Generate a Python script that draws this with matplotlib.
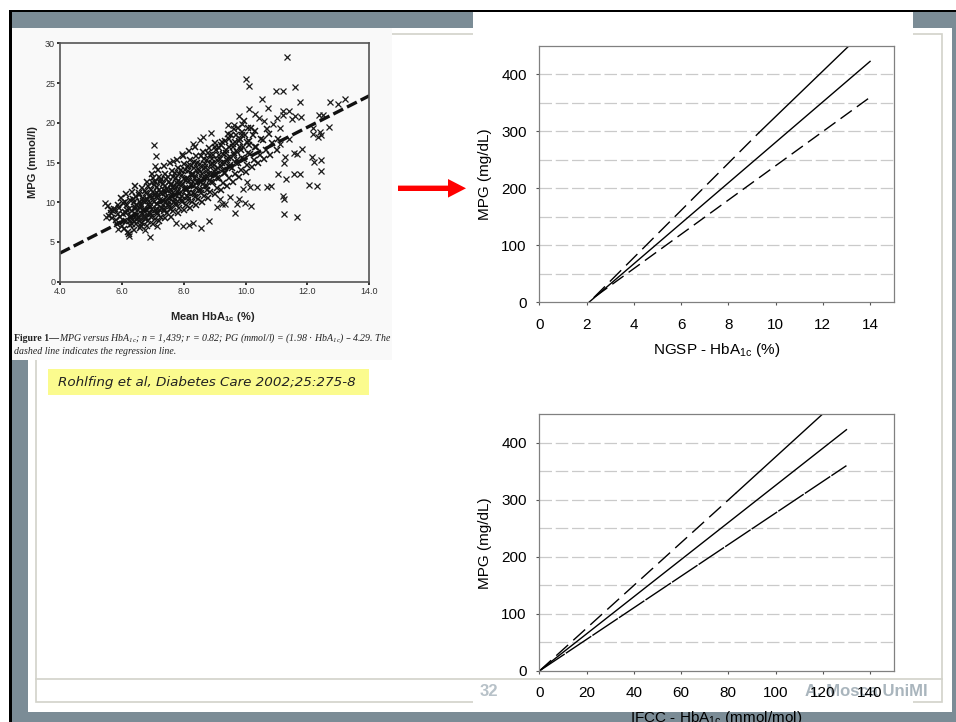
import matplotlib
matplotlib.use("Agg")
import matplotlib.pyplot as plt
from matplotlib.patches import Rectangle, Polygon

plt.rcParams['font.family'] = ['Liberation Sans', 'DejaVu Sans']

W, H = 956, 722

# ---- left picture: MPG (mmol/l) vs mean HbA1c (%)
sparse_pts = [
    (11.33, 28.3), (10.01, 25.5), (10.10, 24.6), (10.97, 23.95), (11.22, 23.95),
    (11.60, 24.5), (10.52, 23.0), (11.76, 22.6), (10.11, 21.7), (10.72, 21.8),
    (11.21, 21.5), (11.39, 21.5), (12.73, 22.6), (13.21, 23.0), (13.00, 22.3),
    (12.38, 21.0), (12.49, 21.0), (9.80, 20.8), (10.30, 21.1), (11.00, 20.55),
    (11.60, 20.8), (11.79, 20.7), (11.22, 21.0), (11.50, 20.5), (9.44, 19.7),
    (9.64, 19.7), (12.69, 19.5), (12.19, 19.4), (12.41, 18.8), (12.44, 18.4),
    (12.35, 18.2), (12.19, 18.6), (11.83, 16.7), (11.65, 16.1), (11.55, 16.2),
    (12.14, 15.7), (12.44, 15.3), (12.22, 15.1), (11.28, 15.7), (11.25, 14.9),
    (12.43, 13.9), (11.05, 13.5), (11.30, 12.9), (11.58, 13.5), (11.76, 13.6),
    (12.05, 12.2), (12.32, 12.0), (10.68, 11.95), (10.81, 12.0), (10.36, 11.9),
    (11.20, 10.8), (11.24, 10.4), (9.99, 9.94), (10.19, 9.5), (11.25, 8.47),
    (11.66, 8.1), (9.80, 10.4), (9.73, 9.77), (9.66, 8.7), (8.81, 7.7),
    (8.57, 6.8), (8.18, 7.1), (8.31, 7.4), (7.99, 7.0), (7.75, 7.4),
    (9.23, 9.8), (9.09, 9.35), (9.35, 9.8), (9.17, 10.4), (9.50, 10.7),
    (9.93, 11.66), (10.14, 11.95), (10.06, 12.6), (7.04, 17.2), (7.11, 15.8),
    (7.07, 14.5), (7.23, 12.8), (6.96, 12.5), (5.45, 9.94), (5.50, 8.2),
    (5.78, 9.1), (5.86, 6.67), (6.22, 5.79), (6.91, 5.66), (6.76, 6.5),
    (7.13, 7.0), (6.69, 8.1), (8.87, 18.75), (8.63, 18.2), (8.31, 17.3),
    (8.53, 17.8), (7.93, 16.1), (7.66, 15.2), (10.9, 19.9), (10.6, 20.2),
    (11.1, 19.3), (10.45, 20.6), (9.9, 19.9), (11.4, 17.9), (11.1, 17.3),
]

cloud_pts = [
    (5.60, 8.3), (5.66, 9.0), (5.55, 9.5), (5.69, 8.0), (5.64, 8.6),
    (5.80, 7.8), (5.86, 8.5), (5.75, 9.2), (5.89, 9.6), (5.72, 8.9), (5.83, 7.3),
    (6.00, 7.0), (6.06, 7.6), (5.95, 8.2), (6.09, 8.8), (5.92, 9.3), (6.03, 9.9), (5.98, 10.5), (6.07, 6.6),
    (6.20, 6.3), (6.26, 7.1), (6.15, 7.7), (6.29, 8.3), (6.12, 8.7), (6.23, 9.2), (6.18, 9.7), (6.27, 10.3),
    (6.14, 11.0), (6.24, 6.0),
    (6.40, 6.5), (6.46, 7.2), (6.35, 7.8), (6.49, 8.4), (6.32, 8.9), (6.43, 9.4), (6.38, 10.0), (6.47, 10.6),
    (6.34, 11.3), (6.44, 12.0),
    (6.60, 6.8), (6.66, 7.4), (6.55, 8.0), (6.69, 8.5), (6.52, 9.0), (6.63, 9.5), (6.58, 10.0), (6.67, 10.5),
    (6.54, 11.1), (6.64, 11.8), (6.61, 7.0),
    (6.80, 7.0), (6.86, 7.6), (6.75, 8.2), (6.89, 8.7), (6.72, 9.2), (6.83, 9.7), (6.78, 10.2), (6.87, 10.8),
    (6.74, 11.4), (6.84, 12.1), (6.81, 12.6),
    (7.00, 7.3), (7.06, 7.9), (6.95, 8.5), (7.09, 9.0), (6.92, 9.5), (7.03, 10.0), (6.98, 10.5), (7.07, 11.0),
    (6.94, 11.6), (7.04, 12.2), (7.01, 13.0), (6.97, 13.6),
    (7.20, 7.6), (7.26, 8.2), (7.15, 8.8), (7.29, 9.3), (7.12, 9.8), (7.23, 10.3), (7.18, 10.8), (7.27, 11.3),
    (7.14, 11.9), (7.24, 12.5), (7.21, 13.2), (7.17, 14.0),
    (7.40, 8.0), (7.46, 8.6), (7.35, 9.2), (7.49, 9.7), (7.32, 10.2), (7.43, 10.7), (7.38, 11.2), (7.47, 11.7),
    (7.34, 12.3), (7.44, 12.9), (7.41, 13.5), (7.37, 14.6),
    (7.60, 8.2), (7.66, 8.9), (7.55, 9.5), (7.69, 10.0), (7.52, 10.5), (7.63, 11.0), (7.58, 11.5), (7.67, 12.0),
    (7.54, 12.6), (7.64, 13.2), (7.61, 13.9), (7.57, 15.0),
    (7.80, 8.6), (7.86, 9.3), (7.75, 9.9), (7.89, 10.4), (7.72, 10.9), (7.83, 11.4), (7.78, 11.9), (7.87, 12.4),
    (7.74, 13.0), (7.84, 13.6), (7.81, 14.3), (7.77, 15.3),
    (8.00, 9.0), (8.06, 9.7), (7.95, 10.3), (8.09, 10.8), (7.92, 11.3), (8.03, 11.8), (7.98, 12.3), (8.07, 12.8),
    (7.94, 13.4), (8.04, 14.0), (8.01, 14.8), (7.97, 15.8),
    (8.20, 9.3), (8.26, 10.0), (8.15, 10.6), (8.29, 11.2), (8.12, 11.7), (8.23, 12.2), (8.18, 12.7), (8.27, 13.3),
    (8.14, 13.9), (8.24, 14.5), (8.21, 15.3), (8.17, 16.4),
    (8.40, 9.6), (8.46, 10.4), (8.35, 11.0), (8.49, 11.6), (8.32, 12.1), (8.43, 12.6), (8.38, 13.1), (8.47, 13.7),
    (8.34, 14.3), (8.44, 15.0), (8.41, 15.8), (8.37, 17.0),
    (8.60, 10.0), (8.66, 10.8), (8.55, 11.5), (8.69, 12.1), (8.52, 12.6), (8.63, 13.1), (8.58, 13.6), (8.67, 14.2),
    (8.54, 14.8), (8.64, 15.5), (8.61, 16.3),
    (8.80, 10.5), (8.86, 11.3), (8.75, 12.0), (8.89, 12.6), (8.72, 13.1), (8.83, 13.6), (8.78, 14.1), (8.87, 14.7),
    (8.74, 15.3), (8.84, 16.0), (8.81, 16.8),
    (9.00, 11.0), (9.06, 11.8), (8.95, 12.5), (9.09, 13.1), (8.92, 13.6), (9.03, 14.1), (8.98, 14.7), (9.07, 15.3),
    (8.94, 15.9), (9.04, 16.6), (9.01, 17.4),
    (9.20, 11.5), (9.26, 12.4), (9.15, 13.1), (9.29, 13.7), (9.12, 14.3), (9.23, 14.9), (9.18, 15.5), (9.27, 16.1),
    (9.14, 16.8), (9.24, 17.6),
    (9.40, 12.0), (9.46, 13.0), (9.35, 13.7), (9.49, 14.4), (9.32, 15.0), (9.43, 15.6), (9.38, 16.2), (9.47, 16.9),
    (9.34, 17.7), (9.44, 18.6),
    (9.60, 12.6), (9.66, 13.5), (9.55, 14.3), (9.69, 15.0), (9.52, 15.6), (9.63, 16.2), (9.58, 16.9), (9.67, 17.6),
    (9.54, 18.4), (9.64, 19.2),
    (9.80, 13.2), (9.86, 14.1), (9.75, 14.9), (9.89, 15.6), (9.72, 16.3), (9.83, 17.0), (9.78, 17.7), (9.87, 18.5),
    (9.74, 19.4),
    (10.00, 13.8), (10.06, 14.7), (9.95, 15.5), (10.09, 16.2), (9.92, 16.9), (10.03, 17.6), (9.98, 18.4),
    (10.07, 19.3), (9.94, 20.2),
    (10.20, 14.4), (10.26, 15.3), (10.15, 16.1), (10.29, 16.9), (10.12, 17.7), (10.23, 18.5), (10.18, 19.4),
    (10.40, 15.0), (10.46, 16.0), (10.35, 17.0), (10.49, 18.0), (10.32, 19.0),
    (10.60, 15.4), (10.66, 16.6), (10.55, 17.8), (10.69, 19.2),
    (10.80, 16.0), (10.86, 17.4), (10.75, 18.6),
    (11.00, 16.6), (11.06, 18.0),
    (6.31, 8.0), (6.52, 8.2), (6.71, 8.9), (6.90, 9.9), (7.11, 10.6), (7.31, 11.0), (7.50, 11.4), (7.70, 11.7),
    (7.90, 12.1), (6.41, 9.1), (6.62, 9.8), (6.81, 10.4), (7.01, 11.3), (7.20, 11.6), (7.40, 12.0), (7.60, 12.3),
    (7.80, 12.7), (8.10, 13.0), (8.30, 13.5), (8.50, 14.0), (8.70, 14.4), (8.90, 14.9), (6.55, 7.6), (6.75, 7.9),
    (6.95, 8.2), (7.15, 8.5), (7.35, 8.9), (7.55, 9.2), (7.75, 9.6), (7.95, 10.0), (8.15, 10.3), (8.35, 10.7),
    (8.55, 11.2), (8.75, 11.6),
    (6.05, 8.5), (6.33, 7.3), (6.58, 9.3), (6.77, 8.0), (6.99, 9.2), (7.22, 9.0), (7.44, 10.0), (7.63, 10.6),
    (7.85, 11.0), (8.08, 11.5), (8.31, 12.5), (8.48, 12.9), (8.71, 13.4), (8.97, 13.9), (9.19, 14.6), (9.41, 15.3),
    (9.62, 15.9), (9.85, 16.6), (10.10, 17.2),
    (6.17, 9.0), (6.45, 9.7), (6.69, 10.2), (6.93, 10.8), (7.13, 11.2), (7.36, 11.6), (7.58, 12.2), (7.79, 12.4),
    (8.02, 12.9), (8.26, 13.6), (8.45, 14.2), (8.68, 14.8), (8.91, 15.4), (9.13, 16.0), (9.37, 16.6), (9.59, 17.3),
    (9.81, 17.9),
    (6.27, 7.6), (6.49, 7.9), (6.71, 8.3), (6.91, 8.7), (7.14, 9.2), (7.33, 9.6), (7.53, 10.0), (7.73, 10.4),
    (7.93, 10.8), (8.17, 11.2), (8.39, 11.8), (8.62, 12.3), (8.85, 12.8), (9.05, 13.4), (9.28, 14.0), (9.51, 14.7),
    (9.71, 15.3),
    (6.10, 10.0), (6.36, 10.4), (6.57, 10.9), (6.79, 11.2), (7.08, 12.6), (7.27, 12.9), (7.49, 13.2), (7.71, 13.7),
    (7.90, 14.1), (8.13, 14.6), (8.33, 15.1), (8.57, 15.8), (8.79, 16.2), (9.02, 16.9), (9.22, 17.2), (9.48, 17.9),
    (9.68, 18.5), (9.90, 18.9),
]

reg_x = [4.0, 14.0]
reg_y = [3.6, 23.4]
scat_xticks = [4.0, 6.0, 8.0, 10.0, 12.0, 14.0]
scat_yticks = [0, 5, 10, 15, 20, 25, 30]

# ---- right picture (a): MPG (mg/dL) vs NGSP HbA1c (%)
a_mid_x, a_mid_y = [2.1, 14.0], [0, 423]
a_low_x, a_low_y = [2.4, 14.0], [11, 360]
a_up_dash_x, a_up_dash_y = [2.3, 9.3], [8, 298]
a_up_solid_x, a_up_solid_y = [9.3, 13.1], [298, 450]

# ---- right picture (b): MPG (mg/dL) vs IFCC HbA1c (mmol/mol)
b_mid_x, b_mid_y = [0, 130], [0, 423]
b_low_x, b_low_y = [0, 130], [0, 360]
b_up_dash_x, b_up_dash_y = [0, 83.5], [0, 313]
b_up_solid_x, b_up_solid_y = [83.5, 119.8], [313, 450]

mpg_ticks = [0, 100, 200, 300, 400]
grid_levels = [50, 100, 150, 200, 250, 300, 350, 400]
ngsp_ticks = [0, 2, 4, 6, 8, 10, 12, 14]
ifcc_ticks = [0, 20, 40, 60, 80, 100, 120, 140]


def px_box(x0, y0, x1, y1):
    return [x0 / W, 1 - y1 / H, (x1 - x0) / W, (y1 - y0) / H]


fig = plt.figure(figsize=(W / 100, H / 100), dpi=100)
bg = fig.add_axes([0, 0, 1, 1])
bg.set_xlim(0, W)
bg.set_ylim(H, 0)
bg.axis('off')


def rect(x0, y0, x1, y1, **kw):
    bg.add_patch(Rectangle((x0, y0), x1 - x0, y1 - y0, **kw))


# slide backdrop
rect(10, 10, W, H, color='#7b8c96', lw=0)
rect(9.5, 9.5, W, 11.8, color='black', lw=0)
rect(9.5, 9.5, 11.8, H, color='black', lw=0)
rect(28, 28, 952, 712, color='white', lw=0)
bg.add_patch(Rectangle((36, 34), 941.7 - 36, 702 - 34, fill=False, ec='#d2d2ca', lw=1.2))
bg.plot([36, 941.7], [679, 679], color='#d2d2ca', lw=1.2)

# pasted pictures
rect(12, 28, 392, 360, color='#f9f9f9', lw=0)
rect(473, 12, 913, 712, color='white', lw=0)

# citation box
rect(48, 369, 369, 395, color='#fbfb8e', lw=0)
bg.text(58, 382.5, 'Rohlfing et al, Diabetes Care 2002;25:275-8', fontfamily='DejaVu Sans',
        style='italic', fontsize=9.7, va='center', ha='left', color='#222222')

# red arrow
bg.add_patch(Polygon([(398, 185.6), (448, 185.6), (448, 179), (466, 188.3),
                      (448, 197.6), (448, 191), (398, 191)], closed=True, color='#ff0000', lw=0))

# footer
bg.text(488.5, 692, '32', color='#b7c1c8', fontsize=12, fontweight='bold', ha='center', va='center')
bg.text(928, 692, 'A. Mosca UniMI', color='#a9b5bd', fontsize=12, fontweight='bold', ha='right', va='center')

# ---- scatter plot
ax0 = fig.add_axes(px_box(60, 43.3, 369.3, 281.7))
ax0.set_facecolor('#f9f9f9')
ax0.plot([p[0] for p in cloud_pts], [p[1] for p in cloud_pts], 'x', ms=5.0, mew=1.1,
         color='#141414', ls='none')
ax0.plot([p[0] for p in sparse_pts], [p[1] for p in sparse_pts], 'x', ms=3.8, mew=0.9,
         color='#1c1c1c', ls='none')
ax0.plot(reg_x, reg_y, color='#111111', lw=2.4, dashes=(3.3, 1.3))
ax0.set_xlim(4, 14)
ax0.set_ylim(0, 30)
ax0.set_xticks(scat_xticks)
ax0.set_xticklabels(['%.1f' % v for v in scat_xticks])
ax0.set_yticks(scat_yticks)
ax0.tick_params(direction='out', length=2, width=1.4, labelsize=6.5, pad=1.5, colors='#333333')
for s in ax0.spines.values():
    s.set_color('#555555')
    s.set_linewidth(1.2)

bg.text(213, 317, r'Mean HbA$_{\mathregular{1c}}$ (%)', fontsize=8, fontweight='bold',
        ha='center', va='center', color='#222222')
bg.text(33, 162, 'MPG (mmol/l)', fontsize=8, fontweight='bold', rotation=90,
        ha='center', va='center', color='#222222')

# caption with bold lead-in
r = fig.canvas.get_renderer()
t1 = bg.text(14, 338.5, 'Figure 1\u2014', fontfamily='Liberation Serif', fontweight='bold',
             fontsize=7.1, va='center', ha='left', color='#222222')
bb = t1.get_window_extent(renderer=r)
x_end = bg.transData.inverted().transform((bb.x1, bb.y0))[0]
bg.text(x_end, 338.5,
        r'MPG versus HbA$_{\mathregular{1c}}$; n = 1,439; r = 0.82; PG (mmol/l) = (1.98 $\cdot$ HbA$_{\mathregular{1c}}$) '
        '\u2013 4.29. The',
        fontfamily='Liberation Serif', style='italic', fontsize=7.1, va='center', ha='left', color='#222222')
bg.text(14, 351, 'dashed line indicates the regression line.', fontfamily='Liberation Serif',
        style='italic', fontsize=7.1, va='center', ha='left', color='#222222')


# ---- right plots
def style_mpg(ax, xmax, xticks):
    ax.set_xlim(0, xmax)
    ax.set_ylim(0, 450)
    ax.set_xticks(xticks)
    ax.set_yticks(mpg_ticks)
    for g in grid_levels:
        ax.axhline(g, color='#cacaca', lw=0.9, dashes=(10, 3), zorder=0)
    ax.tick_params(direction='out', length=2, width=0.8, labelsize=11, color='#555555')
    ax.tick_params(axis='y', pad=7)
    ax.tick_params(axis='x', pad=9)
    for s in ax.spines.values():
        s.set_color('#808080')
        s.set_linewidth(0.9)


axa = fig.add_axes(px_box(539.3, 46, 893.7, 302.3))
style_mpg(axa, 15, ngsp_ticks)
axa.plot(a_mid_x, a_mid_y, color='black', lw=1.0)
axa.plot(a_low_x, a_low_y, color='black', lw=1.0, dashes=(10, 4.5))
axa.plot(a_up_dash_x, a_up_dash_y, color='black', lw=1.0, dashes=(11.5, 5))
axa.plot(a_up_solid_x, a_up_solid_y, color='black', lw=1.0)

axb = fig.add_axes(px_box(539.3, 414.3, 893.7, 671))
style_mpg(axb, 150, ifcc_ticks)
axb.plot(b_mid_x, b_mid_y, color='black', lw=1.0)
axb.plot(b_low_x, b_low_y, color='black', lw=1.0, dashes=(22, 1))
axb.plot(b_up_dash_x, b_up_dash_y, color='black', lw=1.0, dashes=(11.5, 5))
axb.plot(b_up_solid_x, b_up_solid_y, color='black', lw=1.0)

bg.text(589, 92, '(a)', fontsize=16, fontweight='bold', ha='center', va='center')
bg.text(589, 461, '(b)', fontsize=16, fontweight='bold', ha='center', va='center')
bg.text(485, 174, 'MPG (mg/dL)', fontsize=11, rotation=90, ha='center', va='center')
bg.text(485, 543, 'MPG (mg/dL)', fontsize=11, rotation=90, ha='center', va='center')
bg.text(716.5, 350, r'NGSP - HbA$_{\mathregular{1c}}$ (%)', fontsize=11, ha='center', va='center')
bg.text(716.5, 718, r'IFCC - HbA$_{\mathregular{1c}}$ (mmol/mol)', fontsize=11, ha='center', va='center')

fig.savefig('out.png', dpi=100)
